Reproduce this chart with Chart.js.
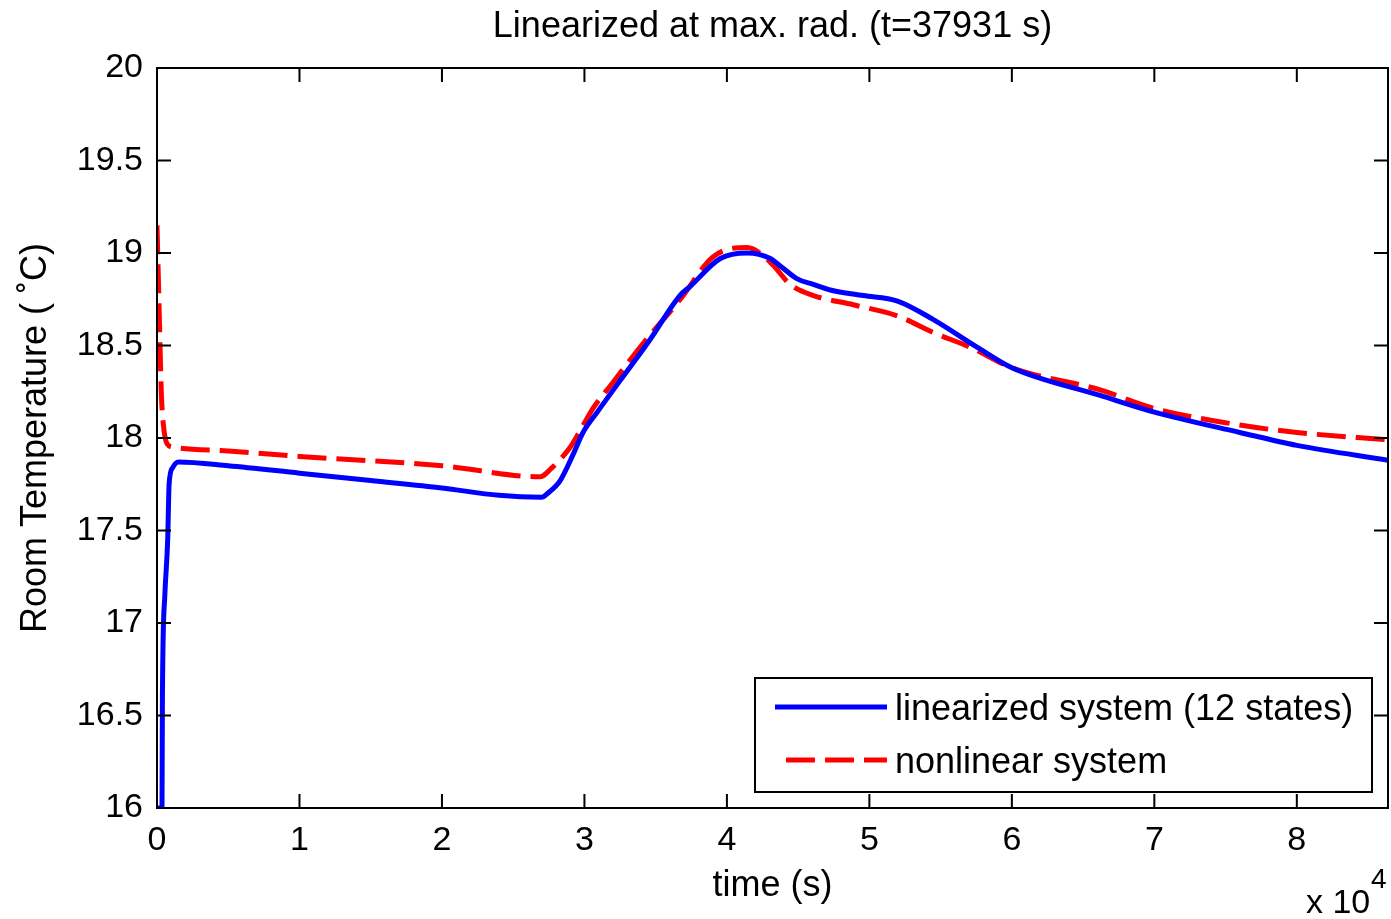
<!DOCTYPE html>
<html>
<head>
<meta charset="utf-8">
<script src="https://cdn.jsdelivr.net/npm/chart.js@4"></script>
<style>
  html, body { margin: 0; padding: 0; background: #fff; }
  #wrap { width: 1391px; height: 919px; }
</style>
</head>
<body>
<div id="wrap"><canvas id="Graf" width="1391" height="919"></canvas></div>
<script>
// time in seconds, temperature in deg C
var tidLin = [0, 350, 380, 550, 750, 850, 1100, 1500, 5000, 10000, 15000, 20000, 24000, 27000, 27400, 28300,
    29200, 29900, 30900, 32500, 34500, 36700, 37430, 39540, 41430, 43050, 43750, 44940, 46070, 47260, 49580,
    51970, 54490, 57580, 60000, 66200, 70000, 76000, 80000, 86400];
var tempLin = [16.0, 16.0, 16.6, 17.15, 17.45, 17.75, 17.84, 17.87, 17.85, 17.81, 17.77, 17.73, 17.69, 17.68, 17.70, 17.77,
    17.91, 18.03, 18.14, 18.31, 18.52, 18.77, 18.82, 18.97, 19.0, 18.97, 18.93, 18.86, 18.83, 18.80, 18.77,
    18.74, 18.64, 18.49, 18.38, 18.23, 18.14, 18.03, 17.96, 17.88];

var tidNon = [0, 150, 300, 450, 700, 1200, 5000, 10000, 20000, 26900, 27600, 29000, 29700, 30600, 32000,
    34000, 36730, 39040, 41430, 43050, 44450, 46070, 48880, 51970, 54490, 57090, 60000, 66200, 70000,
    76000, 80000, 86400];
var tempNon = [19.15, 18.7, 18.25, 18.07, 17.97, 17.95, 17.93, 17.9, 17.85, 17.79, 17.83, 17.95, 18.04, 18.16, 18.30,
    18.50, 18.75, 18.98, 19.03, 18.95, 18.83, 18.77, 18.72, 18.66, 18.57, 18.49, 18.38, 18.26, 18.16,
    18.07, 18.03, 17.99];

var xTicks = [0, 10000, 20000, 30000, 40000, 50000, 60000, 70000, 80000];
var yTicks = [16, 16.5, 17, 17.5, 18, 18.5, 19, 19.5, 20];

var navne = ["linearized system (12 states)", "nonlinear system"];
var titel = "Linearized at max. rad. (t=37931 s)";
var xTitel = "time (s)";
var yTitel = "Room Temperature ( \u02DAC)";

var skrift = "'Liberation Sans', Arial, sans-serif";

function Punkter(tid, temp) {
    var p = [];
    for (var i = 0; i < tid.length; i++) {
        p.push({ x: tid[i], y: temp[i] });
    }
    return p;
}

// box, inward ticks, titles, exponent and legend like the matlab figure
var matlabPlugin = {
    id: 'matlab',
    afterDraw: function (chart) {
        var ctx = chart.ctx;
        var a = chart.chartArea;
        var xs = chart.scales.x;
        var ys = chart.scales.y;
        var tl = 14;

        ctx.save();
        ctx.strokeStyle = '#000';
        ctx.lineWidth = 2;
        ctx.strokeRect(a.left, a.top, a.right - a.left, a.bottom - a.top);

        ctx.beginPath();
        xs.ticks.forEach(function (t) {
            var px = xs.getPixelForValue(t.value);
            ctx.moveTo(px, a.bottom); ctx.lineTo(px, a.bottom - tl);
            ctx.moveTo(px, a.top); ctx.lineTo(px, a.top + tl);
        });
        ys.ticks.forEach(function (t) {
            var py = ys.getPixelForValue(t.value);
            ctx.moveTo(a.left, py); ctx.lineTo(a.left + tl, py);
            ctx.moveTo(a.right, py); ctx.lineTo(a.right - tl, py);
        });
        ctx.stroke();

        ctx.fillStyle = '#000';
        ctx.font = "36px " + skrift;
        ctx.textAlign = 'center';
        ctx.textBaseline = 'middle';
        ctx.fillText(titel, (a.left + a.right) / 2, 27);
        ctx.fillText(xTitel, (a.left + a.right) / 2, 886);

        ctx.save();
        ctx.translate(36, (a.top + a.bottom) / 2);
        ctx.rotate(-Math.PI / 2);
        ctx.fillText(yTitel, 0, 0);
        ctx.restore();

        ctx.textAlign = 'left';
        ctx.font = "34px " + skrift;
        ctx.fillText("x 10", 1306, 904);
        ctx.font = "28px " + skrift;
        ctx.fillText("4", 1371, 880);

        // legend
        var lx = 755, ly = 678, lw = 617, lh = 114;
        ctx.fillStyle = '#fff';
        ctx.fillRect(lx, ly, lw, lh);
        ctx.strokeStyle = '#000';
        ctx.lineWidth = 2;
        ctx.strokeRect(lx, ly, lw, lh);

        ctx.font = "36px " + skrift;
        var rows = [707, 760];
        chart.data.datasets.forEach(function (ds, i) {
            ctx.strokeStyle = ds.borderColor;
            ctx.lineWidth = ds.borderWidth;
            ctx.setLineDash(ds.borderDash || []);
            ctx.beginPath();
            ctx.moveTo(ds.borderDash ? 786 : 775, rows[i]);
            ctx.lineTo(887, rows[i]);
            ctx.stroke();
            ctx.setLineDash([]);
            ctx.fillStyle = '#000';
            ctx.fillText(ds.label, 895, rows[i] + 3);
        });
        ctx.restore();
    }
};

var graf = new Chart("Graf", {
    type: "line",
    data: {
        datasets: [{
            label: navne[0],
            data: Punkter(tidLin, tempLin),
            borderColor: "#0000ff",
            borderWidth: 5,
            pointRadius: 0,
            fill: false,
            cubicInterpolationMode: 'monotone'
        }, {
            label: navne[1],
            data: Punkter(tidNon, tempNon),
            borderColor: "#ff0000",
            borderWidth: 5,
            borderDash: [29, 10],
            pointRadius: 0,
            fill: false,
            cubicInterpolationMode: 'monotone'
        }]
    },
    options: {
        responsive: false,
        animation: false,
        layout: { padding: { left: 0, right: 3, top: 68, bottom: 0 } },
        plugins: {
            legend: { display: false },
            tooltip: { enabled: false },
            title: { display: false }
        },
        scales: {
            x: {
                type: 'linear',
                min: 0,
                max: 86400,
                grid: { display: false, drawTicks: false },
                border: { display: false },
                afterBuildTicks: function (s) {
                    s.ticks = xTicks.map(function (v) { return { value: v }; });
                },
                ticks: {
                    maxRotation: 0,
                    autoSkip: false,
                    padding: 12,
                    color: '#000',
                    font: { family: skrift, size: 34 },
                    callback: function (v) { return String(v / 10000); }
                },
                afterFit: function (s) { s.height = 919 - 808; }
            },
            y: {
                type: 'linear',
                min: 16,
                max: 20,
                grid: { display: false, drawTicks: false },
                border: { display: false },
                afterBuildTicks: function (s) {
                    s.ticks = yTicks.map(function (v) { return { value: v }; });
                },
                ticks: {
                    padding: 14,
                    color: '#000',
                    font: { family: skrift, size: 34 },
                    callback: function (v) { return String(v); }
                },
                afterFit: function (s) { s.width = 157; }
            }
        }
    },
    plugins: [matlabPlugin]
});
</script>
</body>
</html>
